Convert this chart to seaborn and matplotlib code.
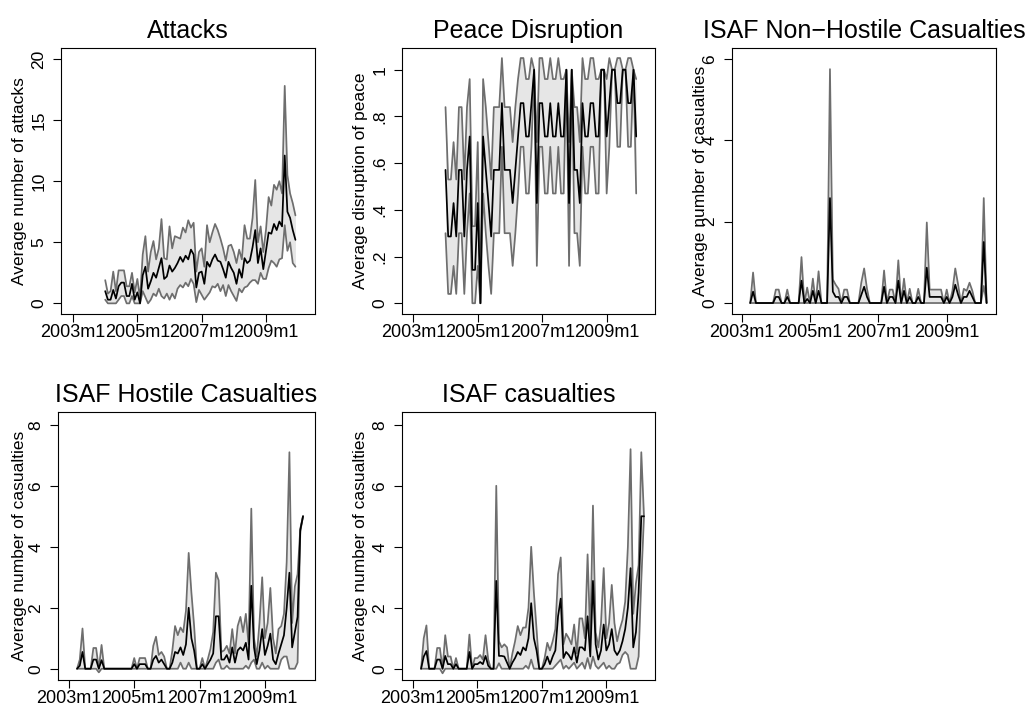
import numpy as np
import pandas as pd
import matplotlib
matplotlib.use("Agg")
import matplotlib.pyplot as plt
import seaborn as sns

sns.set_style("ticks")
plt.rcParams['font.family'] = ['Liberation Sans', 'DejaVu Sans']
plt.rcParams['text.color'] = 'black'
plt.rcParams['axes.labelcolor'] = 'black'
plt.rcParams['xtick.color'] = 'black'
plt.rcParams['ytick.color'] = 'black'

# month index: 0 = 2003m1
xtick_pos = [0, 24, 48, 72]
xtick_labels = ["2003m1", "2005m1", "2007m1", "2009m1"]

# ---------------- Attacks (2004m1 .. 2009m12) ----------------
att_start = 12
att_mean = [1.0, 0.3, 0.3, 1.1, 0.4, 1.4, 1.7, 1.7, 0.6, 0.6, 1.6, 0.3, 0.9, 0.0,
            2.3, 3.0, 1.2, 1.8, 2.5, 2.1, 2.9, 3.7, 2.0, 2.2, 3.1, 2.6, 2.9, 3.3, 3.8, 3.4, 3.9, 3.6, 4.4, 4.0,
            1.3,
            2.5, 2.6, 1.6, 3.4, 3.0, 3.6, 4.0, 3.5, 3.4, 2.8, 2.1, 3.4, 2.9, 2.5, 1.6, 2.8, 2.1, 3.7, 3.3, 3.5, 4.6,
            6.0, 3.3, 4.5, 2.8, 4.3, 5.8, 5.7, 6.5, 6.0, 6.7, 6.3, 12.1, 7.5, 7.0, 6.0, 5.2]
att_hi = [1.9, 0.8, 1.0, 2.6, 1.0, 2.7, 2.7, 2.7, 1.4, 1.4, 2.5, 0.9, 2.0, 0.4,
          4.0, 5.5, 2.6, 4.2, 5.1, 3.6, 4.5, 6.9, 3.7, 3.6, 6.3, 4.5, 5.5, 5.4, 5.3, 6.2, 5.8, 6.8, 6.2, 6.6,
          2.6,
          4.2, 4.5, 3.0, 6.4, 5.0, 5.8, 6.5, 6.0, 5.3, 4.5, 3.5, 4.7, 4.8, 4.2, 3.3, 4.4, 3.6, 6.4, 5.3, 5.3, 7.0,
          10.1, 5.0, 6.3, 4.2, 6.0, 8.7, 8.0, 9.7, 9.3, 10.0, 9.0, 17.8, 10.5, 9.0, 8.2, 7.2]
att_lo = [0.3, 0.0, 0.0, 0.0, 0.0, 0.3, 0.6, 0.6, 0.0, 0.0, 0.6, 0.0, 0.0, 0.0,
          1.0, 0.5, 0.0, 0.3, 0.8, 0.6, 1.2, 0.6, 0.4, 0.8, 0.3, 0.8, 0.4, 1.2, 1.5, 1.3, 1.7, 1.4, 2.0, 1.6,
          0.1,
          1.1, 0.7, 0.3, 0.6, 0.9, 1.4, 1.3, 1.6, 1.0, 1.5, 0.6, 1.5, 1.0, 0.6, 0.2, 1.2, 0.9, 1.3, 1.4, 1.7, 1.9,
          1.9, 1.6, 2.5, 2.0, 2.0, 2.9, 3.5, 3.3, 3.0, 3.6, 3.7, 6.4, 4.3, 5.0, 3.3, 3.0]

# ---------------- Peace disruption (2004m1 .. 2009m12) ----------------
pea_start = 12
pea_mean = [.571, .286, .286, .429, .286, .571, .571, .286, .571, .714, .143, .143, .429, 0,
            .714, .571, .429, .286, .571, .571, .571, .857, .571, .571, .571, .429, .571, .714, .857, .857,
            .714, .714, .857, 1, .429, .857, .857, .714, .714, .857, .714, .714, .857, .714, .714, 1,
            .429, 1, .571, .571, .429, .857, .714, .714, .857, .857, .714, .714, 1, 1, .714, .857,
            1, 1, .857, .857, 1, 1, .857, .857, 1, .714]
pea_lo = [.30, .04, .04, .16, .04, .30, .30, .04, .30, .47, 0, 0, .16, 0,
          .47, .30, .16, .04, .30, .30, .30, .67, .30, .30, .30, .16, .30, .47, .67, .67,
          .47, .47, .67, 1, .16, .67, .67, .47, .47, .67, .47, .47, .67, .47, .47, 1,
          .16, 1, .30, .30, .16, .67, .47, .47, .67, .67, .47, .47, 1, 1, .47, .67,
          1, 1, .67, .67, 1, 1, .67, .67, 1, .47]
pea_hi = [.84, .53, .53, .69, .53, .84, .84, .53, .84, .96, .33, .33, .69, 0,
          .96, .84, .69, .53, .84, .84, .84, 1.05, .84, .84, .84, .69, .84, .96, 1.05, 1.05,
          .96, .96, 1.05, 1, .69, 1.05, 1.05, .96, .96, 1.05, .96, .96, 1.05, .96, .96, 1,
          .69, 1, .84, .84, .69, 1.05, .96, .96, 1.05, 1.05, .96, .96, 1, 1, .96, 1.05,
          1, 1, 1.05, 1.05, 1, 1, 1.05, 1.05, 1, .96]

# ---------------- ISAF non-hostile casualties (2003m4 .. 2010m3) ----------------
nh_start = 3
nh_mean = [0, .28, 0, 0, 0, 0, 0, 0, 0, .15,
           .15, 0, 0, .15, 0, 0, 0, 0, .55, 0, .1,
           0, .3, 0, .3, 0, 0, 0, 2.58, .28, .15, .15, 0, .15, .15,
           0, 0, 0, 0, .2, .4, .15, 0, 0, 0, 0, 0, .4, 0, .15, .15,
           0, .55, 0, .3, 0, .15, 0, 0, .15, 0, 0, .87, .15, .15, .15, .15,
           .15, 0, .15, 0, .15, .45, .2, 0, .15, .15, .3, .15, 0, 0, 0, 1.5, 0]
nh_hi = [0, .75, 0, 0, 0, 0, 0, 0, 0, .33,
         .33, 0, 0, .33, 0, 0, 0, 0, 1.13, 0, .38,
         0, .6, 0, .78, 0, 0, 0, 5.75, .58, .45, .35, 0, .33, .33,
         0, 0, 0, 0, .5, .85, .35, 0, 0, 0, 0, 0, .8, 0, .33, .33,
         0, 1.05, 0, .6, 0, .35, 0, 0, .35, 0, 0, 1.98, .33, .33, .33, .33,
         .33, 0, .33, 0, .3, .85, .45, 0, .35, .3, .5, .3, 0, 0, 0, 2.58, 0]
nh_lo = [0, 0, 0, 0, 0, 0, 0, 0, 0, 0,
         0, 0, 0, 0, 0, 0, 0, 0, 0, 0, 0,
         0, 0, 0, 0, 0, 0, 0, 0, 0, 0, 0, 0, 0, 0,
         0, 0, 0, 0, 0, 0, 0, 0, 0, 0, 0, 0, 0, 0, 0, 0,
         0, 0, 0, 0, 0, 0, 0, 0, 0, 0, 0, 0, 0, 0, 0, 0,
         0, 0, 0, 0, 0, 0, 0, 0, 0, 0, 0, 0, 0, 0, 0, .42, 0]

# ---------------- ISAF hostile casualties (2003m4 .. 2010m3) ----------------
hos_start = 3
hos_mean = [0, .1, .55, 0, 0, 0, .3, .3, 0, .28,
            0, 0, 0, 0, 0, 0, 0, 0, 0, 0, 0,
            .15, 0, .15, .15, .15, 0, 0, .3, .42, .2, .3, .15, 0, 0,
            .2, .55, .5, .7, .45, .8, 2.0, 1.0, .6, 0, 0, .15, 0, .15, .3, .5,
            1.72, 1.72, .3, .3, .45, .2, .7, .2, .6, .7, .6, .85, .3, 2.72, .7, .15,
            .6, 1.3, .45, .75, 1.15, .3, .15, .5, .8, 1.1, 2.0, 3.15, .7, 1.2, 1.7, 4.55, 5.0]
hos_hi = [0, .3, 1.32, 0, 0, 0, .68, .68, 0, .78,
          0, 0, 0, 0, 0, 0, 0, 0, 0, 0, 0,
          .35, 0, .35, .35, .35, 0, 0, .75, 1.05, .45, .55, .4, 0, 0,
          .6, 1.4, 1.1, 1.35, 1.2, 1.9, 3.8, 2.5, 1.4, 0, 0, .35, 0, .3, .65, 1.2,
          3.15, 2.9, .55, .6, .75, .5, 1.3, .5, 1.4, 1.7, 1.2, 1.8, .8, 5.25, 1.0, .4,
          1.5, 3.0, 1.0, 1.5, 2.65, 1.0, .5, 1.3, 1.4, 1.8, 3.5, 7.1, 1.5, 2.7, 3.1, 4.6, 5.0]
hos_lo = [0, 0, 0, 0, 0, 0, 0, 0, -.12, 0,
          0, 0, 0, 0, 0, 0, 0, 0, 0, 0, 0,
          0, 0, 0, 0, 0, 0, 0, 0, 0, 0, 0, 0, 0, 0,
          0, 0, 0, .2, 0, 0, .2, 0, 0, 0, 0, 0, 0, 0, 0, 0,
          .2, .3, 0, 0, .1, 0, 0, 0, 0, 0, 0, .1, 0, .2, .3, 0,
          0, .2, 0, .1, 0, 0, 0, 0, .3, .4, .4, 0, 0, 0, .2, 4.5, 5.0]

# ---------------- ISAF casualties (2003m4 .. 2010m3) ----------------
tot_start = 3
tot_mean = [0, .4, .58, 0, 0, 0, .3, .3, 0, .42,
            .15, .15, 0, .15, 0, 0, 0, 0, .55, 0, .15,
            .15, .22, .15, .42, .1, 0, 0, 2.88, .42, .42, .4, .2, 0, .2,
            .35, .55, .45, .7, .6, 1.0, 2.15, 1.0, .6, 0, 0, .15, .4, .15, .4, .6,
            1.72, 2.3, .35, .55, .45, .3, .7, .2, .7, .7, .6, 1.72, .4, 2.88, .8, .3,
            .6, 1.45, .6, .8, 1.3, .6, .45, .6, .9, 1.3, 2.0, 3.3, .7, 1.2, 2.5, 5.0, 5.0]
tot_hi = [0, 1.0, 1.42, 0, 0, 0, .68, .68, 0, 1.1,
          .4, .4, 0, .35, 0, 0, 0, 0, 1.12, 0, .35,
          .35, .45, .3, 1.1, .3, 0, 0, 6.0, .9, .7, .8, .7, 0, .5,
          .9, 1.4, 1.1, 1.35, 1.35, 2.0, 4.0, 2.5, 1.3, 0, 0, .35, .85, .6, .9, 1.3,
          3.1, 3.65, .8, 1.15, 1.0, .8, 1.45, .5, 1.65, 1.65, 1.0, 3.75, 1.0, 5.35, 1.2, .7,
          1.5, 3.3, 1.0, 1.5, 2.75, 1.5, .9, 1.3, 1.6, 2.2, 4.0, 7.2, 1.8, 2.8, 3.4, 7.1, 5.0]
tot_lo = [0, 0, 0, 0, 0, 0, 0, 0, -.15, 0,
          0, 0, 0, 0, 0, 0, 0, 0, 0, 0, 0,
          0, 0, 0, 0, 0, 0, 0, 0, .18, 0, 0, 0, 0, 0,
          0, 0, 0, 0, .1, 0, .3, 0, 0, 0, 0, 0, 0, 0, 0, .1,
          .2, .3, 0, .1, 0, .1, .2, 0, .1, .2, 0, .35, 0, .4, .1, 0,
          .1, .2, 0, .1, 0, 0, .15, .2, .45, .55, .45, 0, 0, 0, .4, 2.9, 5.0]

GRAY = '#6e6e6e'
FILL = '#e6e6e6'
W, H = 1028, 707

fig = plt.figure(figsize=(W / 100, H / 100), dpi=100)
fig.patch.set_facecolor('white')


def make_axes(l, r, t, b):
    return fig.add_axes([l / W, 1 - b / H, (r - l) / W, (b - t) / H])


def panel(box, start, mean, lo, hi, title, ylabel, yticks, yticklabels, ylim, xlim, ylab_px):
    l, r, t, b = box
    ax = make_axes(l, r, t, b)
    months = np.arange(start, start + len(mean))
    df = pd.DataFrame({'month': months, 'mean': mean, 'lo': lo, 'hi': hi})
    ax.fill_between(df['month'], df['lo'], df['hi'], color=FILL, lw=0, zorder=1)
    sns.lineplot(data=df, x='month', y='lo', ax=ax, color=GRAY, lw=1.25, errorbar=None, zorder=2)
    sns.lineplot(data=df, x='month', y='hi', ax=ax, color=GRAY, lw=1.25, errorbar=None, zorder=2)
    sns.lineplot(data=df, x='month', y='mean', ax=ax, color='black', lw=1.25, errorbar=None, zorder=3)
    ax.set_xlim(*xlim)
    ax.set_ylim(*ylim)
    ax.set_xticks(xtick_pos)
    ax.set_xticklabels(xtick_labels, fontsize=13, color='black')
    ax.set_yticks(yticks)
    ax.set_yticklabels(yticklabels, fontsize=12.5, rotation=90, va='center', color='black')
    ax.tick_params(axis='both', direction='out', length=6, width=0.8, color='black')
    ax.tick_params(axis='x', pad=1)
    ax.tick_params(axis='y', pad=4.5)
    ax.set_xlabel('')
    ax.set_ylabel(ylabel, fontsize=12.5, va='center', color='black')
    ax.yaxis.set_label_coords((ylab_px - l) / (r - l), 0.5)
    ax.set_title(title, fontsize=18, pad=7, color='black')
    for s in ax.spines.values():
        s.set_visible(True)
        s.set_color('black')
        s.set_linewidth(0.8)
    ax.set_facecolor('white')
    return ax


panel((61, 315, 48, 314), att_start, att_mean, att_lo, att_hi, 'Attacks',
      'Average number of attacks', [0, 5, 10, 15, 20], ['0', '5', '10', '15', '20'],
      (-0.87, 20.9), (-4.5, 90.3), 20)
panel((402, 655, 48, 314), pea_start, pea_mean, pea_lo, pea_hi, 'Peace Disruption',
      'Average disruption of peace', [0, .2, .4, .6, .8, 1], ['0', '.2', '.4', '.6', '.8', '1'],
      (-0.046, 1.093), (-4.2, 90.0), 360)
panel((732, 996, 48, 314), nh_start, nh_mean, nh_lo, nh_hi, 'ISAF Non\u2212Hostile Casualties',
      'Average number of casualties', [0, 2, 4, 6], ['0', '2', '4', '6'],
      (-0.27, 6.27), (-3.4, 89.3), 700)
panel((58, 315, 412, 680), hos_start, hos_mean, hos_lo, hos_hi, 'ISAF Hostile Casualties',
      'Average number of casualties', [0, 2, 4, 6, 8], ['0', '2', '4', '6', '8'],
      (-0.37, 8.42), (-4.0, 90.4), 20)
panel((402, 655, 412, 680), tot_start, tot_mean, tot_lo, tot_hi, 'ISAF casualties',
      'Average number of casualties', [0, 2, 4, 6, 8], ['0', '2', '4', '6', '8'],
      (-0.37, 8.42), (-4.1, 90.1), 360)

fig.savefig('out.png', dpi=100, facecolor='white')
